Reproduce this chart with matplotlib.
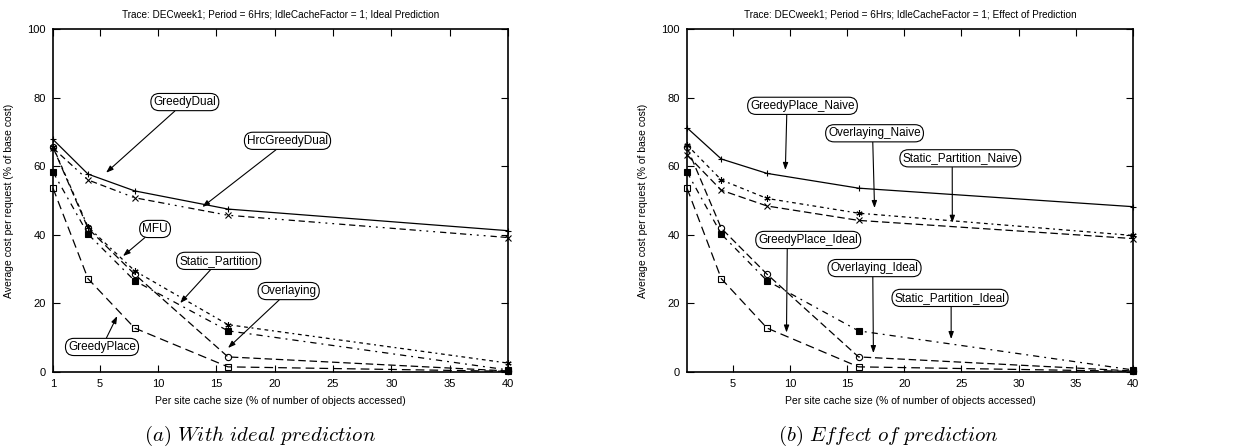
import matplotlib
matplotlib.use("Agg")
import matplotlib.pyplot as plt

plt.rcParams['font.family'] = ['Liberation Sans', 'DejaVu Sans']
plt.rcParams['mathtext.fontset'] = 'cm'

# ---------------- data ----------------
cache_sizes = [1, 4, 8, 16, 40]

# (a) ideal prediction
greedy_dual = [67.8, 57.7, 52.8, 47.5, 41.2]
hrc_greedy_dual = [65.3, 56.0, 50.8, 45.7, 39.2]
mfu = [65.7, 42.3, 29.5, 13.8, 2.6]
static_partition = [58.3, 40.2, 26.6, 12.0, 0.6]
overlaying = [65.5, 41.9, 28.5, 4.4, 0.3]
greedy_place = [53.6, 27.2, 12.8, 1.5, 0.2]

# (b) effect of prediction
greedy_place_naive = [71.2, 62.1, 57.9, 53.6, 48.2]
overlaying_naive = [66.2, 56.0, 50.6, 46.3, 39.8]
static_partition_naive = [63.3, 53.0, 48.4, 44.2, 38.9]
greedy_place_ideal = [53.6, 27.2, 12.8, 1.5, 0.2]
overlaying_ideal = [65.5, 41.9, 28.5, 4.4, 0.3]
static_partition_ideal = [58.3, 40.2, 26.6, 12.0, 0.6]

xticks_a = [1, 5, 10, 15, 20, 25, 30, 35, 40]
xticks_b = [5, 10, 15, 20, 25, 30, 35, 40]
yticks = [0, 20, 40, 60, 80, 100]

title_a = "Trace: DECweek1; Period = 6Hrs; IdleCacheFactor = 1; Ideal Prediction"
title_b = "Trace: DECweek1; Period = 6Hrs; IdleCacheFactor = 1; Effect of Prediction"
xlabel = "Per site cache size (% of number of objects accessed)"
ylabel = "Average cost per request (% of base cost)"
caption_a = r"$\mathit{(a)\ With\ ideal\ prediction}$"
caption_b = r"$\mathit{(b)\ Effect\ of\ prediction}$"

# ---------------- styles ----------------
SOLID = '-'
DASH_MIX = (0, (5, 3, 5, 3, 5, 3, 1.5, 4, 1.5, 4, 1.5, 4))
DASH_SHORT = (0, (3, 3, 3, 3, 1.5, 3))
DASH_LONG = (0, (6, 3))
DASH_MED = (0, (5, 4, 1.5, 4))
DASH_LG2 = (0, (7, 4))

fig = plt.figure(figsize=(12.51, 4.48), dpi=100)
ax1 = fig.add_axes([53/1251, 1-372/448, (508-53)/1251, (372-29)/448])
ax2 = fig.add_axes([687/1251, 1-372/448, (1133-687)/1251, (372-29)/448])

lw = 0.9
ms = 4.5

def plot(ax, y, ls, marker, mfc='none'):
    ax.plot(cache_sizes, y, color='black', linestyle=ls, linewidth=lw,
            marker=marker, markersize=ms, markerfacecolor=mfc,
            markeredgecolor='black', markeredgewidth=0.8, clip_on=False)

plot(ax1, greedy_dual, SOLID, '+')
plot(ax1, hrc_greedy_dual, DASH_MIX, 'x')
plot(ax1, mfu, DASH_SHORT, (6, 2, 0))
plot(ax1, static_partition, DASH_MED, 's', 'black')
plot(ax1, overlaying, DASH_LONG, 'o')
plot(ax1, greedy_place, DASH_LG2, 's')

plot(ax2, greedy_place_naive, SOLID, '+')
plot(ax2, overlaying_naive, DASH_SHORT, (6, 2, 0))
plot(ax2, static_partition_naive, DASH_LONG, 'x')
plot(ax2, greedy_place_ideal, DASH_LG2, 's')
plot(ax2, overlaying_ideal, DASH_LONG, 'o')
plot(ax2, static_partition_ideal, DASH_MED, 's', 'black')

for ax, xt, title in [(ax1, xticks_a, title_a), (ax2, xticks_b, title_b)]:
    ax.set_xlim(1, 40)
    ax.set_ylim(0, 100)
    ax.set_xticks(xt)
    ax.set_yticks(yticks)
    ax.tick_params(direction='in', top=True, right=True, length=5,
                   width=0.8, labelsize=8, pad=5)
    for s in ax.spines.values():
        s.set_linewidth(1.2)
    ax.set_title(title, fontsize=7.2, pad=8)
    ax.set_xlabel(xlabel, fontsize=7.5, labelpad=5)
    ax.set_ylabel(ylabel, fontsize=7.5, labelpad=10)

fig.text(260/1251, 1 - 436/448, caption_a, ha='center', va='center', fontsize=15)
fig.text(888/1251, 1 - 436/448, caption_b, ha='center', va='center', fontsize=15)

bbox = dict(boxstyle='round,pad=0.22,rounding_size=0.72', fc='white', ec='black', lw=0.8)

def label(ax, text, xt, yt, xa, ya, relpos=(0.5, 0.5)):
    ax.annotate(text, xy=(xa, ya), xytext=(xt, yt), ha='center', va='center',
                fontsize=8.5, bbox=bbox, zorder=5,
                arrowprops=dict(arrowstyle='-|>,head_length=0.5,head_width=0.18',
                                color='black', lw=0.8, relpos=relpos,
                                shrinkA=0, shrinkB=0))

label(ax1, 'GreedyDual', 12.3, 78.7, 5.55, 58.1)
label(ax1, 'HrcGreedyDual', 21.1, 67.4, 13.8, 48.1)
label(ax1, 'MFU', 9.75, 41.7, 7.0, 33.8)
label(ax1, 'Static_Partition', 15.2, 32.4, 11.9, 20.1)
label(ax1, 'Overlaying', 21.2, 23.6, 16.0, 7.0)
label(ax1, 'GreedyPlace', 5.2, 7.3, 6.5, 16.3)

label(ax2, 'GreedyPlace_Naive', 11.1, 77.6, 9.6, 58.9, (0.35, 0))
label(ax2, 'Overlaying_Naive', 17.4, 69.6, 17.4, 47.8, (0.48, 0))
label(ax2, 'Static_Partition_Naive', 24.9, 62.3, 24.2, 43.5, (0.43, 0))
label(ax2, 'GreedyPlace_Ideal', 11.6, 38.5, 9.7, 11.5, (0.29, 0))
label(ax2, 'Overlaying_Ideal', 17.4, 30.3, 17.3, 5.5, (0.48, 0))
label(ax2, 'Static_Partition_Ideal', 24.0, 21.6, 24.1, 9.6, (0.51, 0))

fig.savefig('out.png', dpi=100)
